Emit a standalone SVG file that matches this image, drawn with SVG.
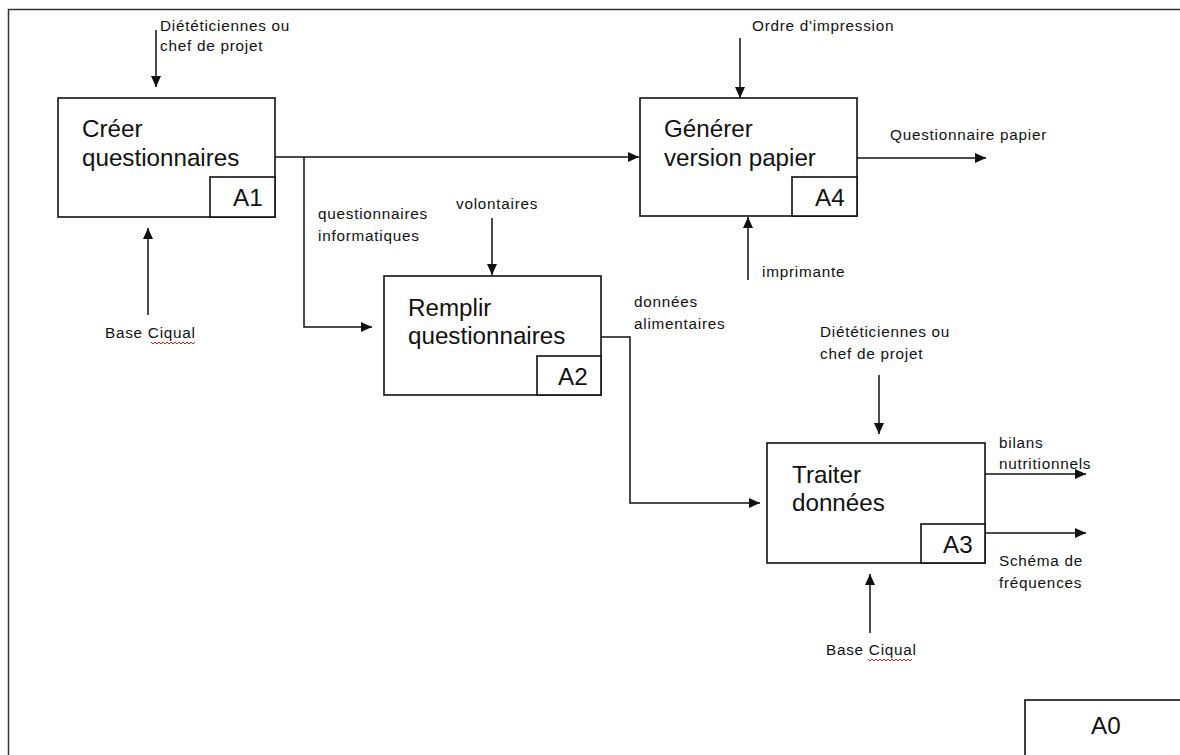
<svg xmlns="http://www.w3.org/2000/svg" width="1180" height="755" viewBox="0 0 1180 755">
<style>
.box{fill:#fff;stroke:#111;stroke-width:1.6}
.big{font-family:"Liberation Sans",Arial,sans-serif;font-size:24.2px;fill:#111}
.lbl{font-family:"Liberation Sans",Arial,sans-serif;font-size:15.3px;letter-spacing:0.75px;fill:#111}
.con{fill:none;stroke:#111;stroke-width:1.5}
.sq{fill:none;stroke:#d00;stroke-width:0.9}
</style>
<defs>
<marker id="ah" markerUnits="userSpaceOnUse" markerWidth="11" markerHeight="10" refX="11" refY="5" orient="auto">
<path d="M0,0 L11,5 L0,10 z" fill="#111"/>
</marker>
</defs>
<rect x="0" y="0" width="1180" height="755" fill="#fff"/>
<rect x="8.5" y="9.5" width="1200" height="800" fill="none" stroke="#333" stroke-width="1.5"/>

<g id="A1">
<rect class="box" x="58" y="98" width="217" height="119"/>
<rect class="box" x="210" y="177" width="65" height="40"/>
<text class="big" x="82" y="137">Créer</text>
<text class="big" x="82" y="166">questionnaires</text>
<text class="big" x="233" y="206">A1</text>
</g>

<g id="A2">
<rect class="box" x="384" y="276" width="217" height="119"/>
<rect class="box" x="537" y="356" width="64" height="39"/>
<text class="big" x="408" y="316">Remplir</text>
<text class="big" x="408" y="344">questionnaires</text>
<text class="big" x="558" y="385">A2</text>
</g>

<g id="A4">
<rect class="box" x="640" y="98" width="217" height="118"/>
<rect class="box" x="792" y="177" width="65" height="39"/>
<text class="big" x="664" y="137">Générer</text>
<text class="big" x="664" y="166">version papier</text>
<text class="big" x="815" y="206">A4</text>
</g>

<g id="A3">
<rect class="box" x="767" y="443" width="218" height="120"/>
<rect class="box" x="921" y="524" width="64" height="39"/>
<text class="big" x="792" y="483">Traiter</text>
<text class="big" x="792" y="511">données</text>
<text class="big" x="943" y="553">A3</text>
</g>

<g id="A0">
<rect class="box" x="1025" y="700" width="200" height="80"/>
<text class="big" x="1091" y="734">A0</text>
</g>

<g id="connectors">
<path class="con" d="M156,30 V87" marker-end="url(#ah)"/>
<path class="con" d="M148,315 V228" marker-end="url(#ah)"/>
<path class="con" d="M275,157 H639" marker-end="url(#ah)"/>
<path class="con" d="M304,157 V327 H372" marker-end="url(#ah)"/>
<path class="con" d="M492,218 V275" marker-end="url(#ah)"/>
<path class="con" d="M601,337 H630 V503 H760" marker-end="url(#ah)"/>
<path class="con" d="M740,38 V98" marker-end="url(#ah)"/>
<path class="con" d="M748,280 V217" marker-end="url(#ah)"/>
<path class="con" d="M857,158 H986" marker-end="url(#ah)"/>
<path class="con" d="M879,375 V434" marker-end="url(#ah)"/>
<path class="con" d="M870,633 V574" marker-end="url(#ah)"/>
<path class="con" d="M985,474 H1086" marker-end="url(#ah)"/>
<path class="con" d="M985,533 H1086" marker-end="url(#ah)"/>
</g>

<g id="labels">
<text class="lbl" x="160" y="31">Diététiciennes ou</text>
<text class="lbl" x="160" y="51">chef de projet</text>
<text class="lbl" x="105" y="338">Base Ciqual</text>
<path class="sq" d="M151,342 l2,2 l2,-2 l2,2 l2,-2 l2,2 l2,-2 l2,2 l2,-2 l2,2 l2,-2 l2,2 l2,-2 l2,2 l2,-2 l2,2 l2,-2 l2,2 l2,-2 l2,2 l2,-2 l2,2 l2,-2"/>
<text class="lbl" x="318" y="219">questionnaires</text>
<text class="lbl" x="318" y="241">informatiques</text>
<text class="lbl" x="456" y="209">volontaires</text>
<text class="lbl" x="634" y="307">données</text>
<text class="lbl" x="634" y="329">alimentaires</text>
<text class="lbl" x="752" y="31">Ordre d'impression</text>
<text class="lbl" x="762" y="277">imprimante</text>
<text class="lbl" x="890" y="140">Questionnaire papier</text>
<text class="lbl" x="820" y="337">Diététiciennes ou</text>
<text class="lbl" x="820" y="359">chef de projet</text>
<text class="lbl" x="999" y="448">bilans</text>
<text class="lbl" x="999" y="469">nutritionnels</text>
<text class="lbl" x="999" y="566">Schéma de</text>
<text class="lbl" x="999" y="588">fréquences</text>
<text class="lbl" x="826" y="655">Base Ciqual</text>
<path class="sq" d="M868,659 l2,2 l2,-2 l2,2 l2,-2 l2,2 l2,-2 l2,2 l2,-2 l2,2 l2,-2 l2,2 l2,-2 l2,2 l2,-2 l2,2 l2,-2 l2,2 l2,-2 l2,2 l2,-2 l2,2 l2,-2"/>
</g>
</svg>
